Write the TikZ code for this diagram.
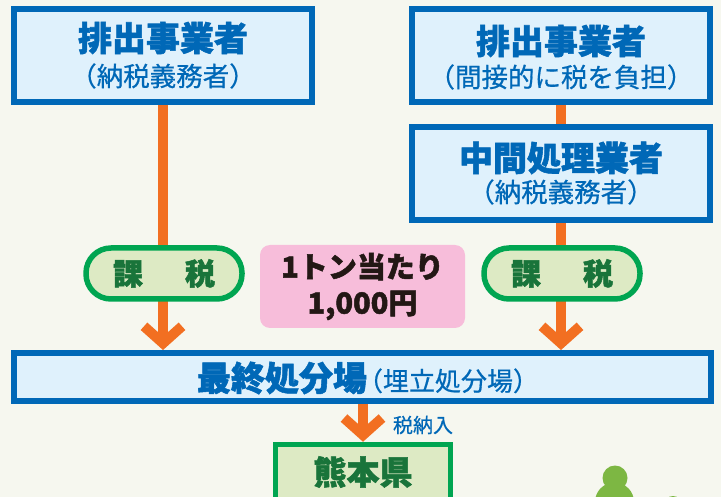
\documentclass[tikz,border=0pt]{standalone}
\usepackage{fontspec}
\usetikzlibrary{arrows.meta}
\newfontfamily\jpfont{Noto Sans CJK JP}[BoldFeatures={FakeBold=1.6}]
\newfontfamily\jpmed{Noto Sans CJK JP}[FakeBold=0.6]

\definecolor{kblue}{HTML}{0068B7}
\definecolor{kbluefill}{HTML}{DFF1FC}
\definecolor{kgreen}{HTML}{00A551}
\definecolor{kgreenfill}{HTML}{DDEAC4}
\definecolor{kgreentext}{HTML}{19743A}
\definecolor{korange}{HTML}{F26F21}
\definecolor{kpink}{HTML}{F7BDDA}
\definecolor{kink}{HTML}{231815}
\definecolor{ktree}{HTML}{7DB743}
\definecolor{kback}{HTML}{F6F7EF}

\begin{document}
\begin{tikzpicture}[x=1pt,y=-1pt,
   bluebox/.style={draw=kblue,fill=kbluefill,line width=6pt,inner sep=0pt},
   taxpill/.style={draw=kgreen,fill=kgreenfill,line width=5.5pt,rounded corners=25pt,
      minimum width=156pt,minimum height=51pt,inner sep=0pt,text=kgreentext,
      font=\jpfont\bfseries\fontsize{30}{30}\selectfont},
   flow/.style={draw=korange,line width=10pt},
   flowarrow/.style={flow,-{Straight Barb[length=17pt,width=38pt]}},
   bigtxt/.style={text=kblue,inner sep=0pt,font=\jpfont\bfseries\fontsize{34}{34}\selectfont},
   subtxt/.style={text=kblue,inner sep=0pt,font=\jpmed\fontsize{26.5}{26.5}\selectfont}]

   \clip (0,0) rectangle (721,497);
   \fill[kback] (0,0) rectangle (721,497);

   % tree in the corner
   \fill[ktree] (615,478) circle (12.5) (614.5,502) circle (19.5) (673,505) circle (9);

   %%%%%%%%%% boxes
   \node[bluebox,minimum width=298pt,minimum height=93pt] (emit1) at (163,55.5) {};
   \node[bluebox,minimum width=298pt,minimum height=93pt] (emit2) at (561,55.5) {};
   \node[bluebox,minimum width=298pt,minimum height=93pt] (mid) at (561,173.5) {};
   \node[bluebox,minimum width=697pt,minimum height=48pt] (final) at (362.5,377) {};
   \node[draw=kgreen,fill=kgreenfill,line width=5.5pt,inner sep=0pt,
      minimum width=175pt,minimum height=80pt] (ken) at (363,484.5) {};

   %%%%%%%%%% flow lines
   \draw[flow] (emit2.south) -- (mid.north);
   \draw[flowarrow] (emit1.south) -- (emit1.south |- final.north);
   \draw[flowarrow] (mid.south) -- (mid.south |- final.north);
   \draw[flowarrow] (ken.north |- final.south) -- (ken.north);

   %%%%%%%%%% labels
   \node[bigtxt] (emit1t) at (163,38) {排出事業者};
   \node[subtxt] (emit1s) at (163,76) {（納税義務者）};
   \node[bigtxt] (emit2t) at (561,41) {排出事業者};
   \node[subtxt] (emit2s) at (561,77) {（間接的に税を負担）};
   \node[bigtxt] (midt) at (561,158) {中間処理業者};
   \node[subtxt] (mids) at (561,192) {（納税義務者）};
   \node[text=kblue,inner sep=0pt] (finalt) at (368,378)
      {{\jpfont\bfseries\fontsize{34}{34}\selectfont 最終処分場}\kern-10pt{\jpmed\fontsize{26}{26}\selectfont （埋立処分場）}};

   \node[taxpill] (tax1) at (164,273.5) {課\hspace{1.4em}税};
   \node[taxpill] (tax2) at (562,273.5) {課\hspace{1.4em}税};

   \node[fill=kpink,rounded corners=10pt,minimum width=205pt,minimum height=83pt,
      align=center,text=kink,font=\jpfont\bfseries\fontsize{29}{36}\selectfont]
      (rate) at (362.5,286.5) {1トン当たり\\1,000円};

   \node[text=kblue,font=\jpmed\fontsize{20}{20}\selectfont] (pay) at (423,425) {税納入};
   \node[text=kgreentext,font=\jpfont\bfseries\fontsize{33}{33}\selectfont] (kent) at (363,472) {熊本県};
 \end{tikzpicture}
\end{document}
